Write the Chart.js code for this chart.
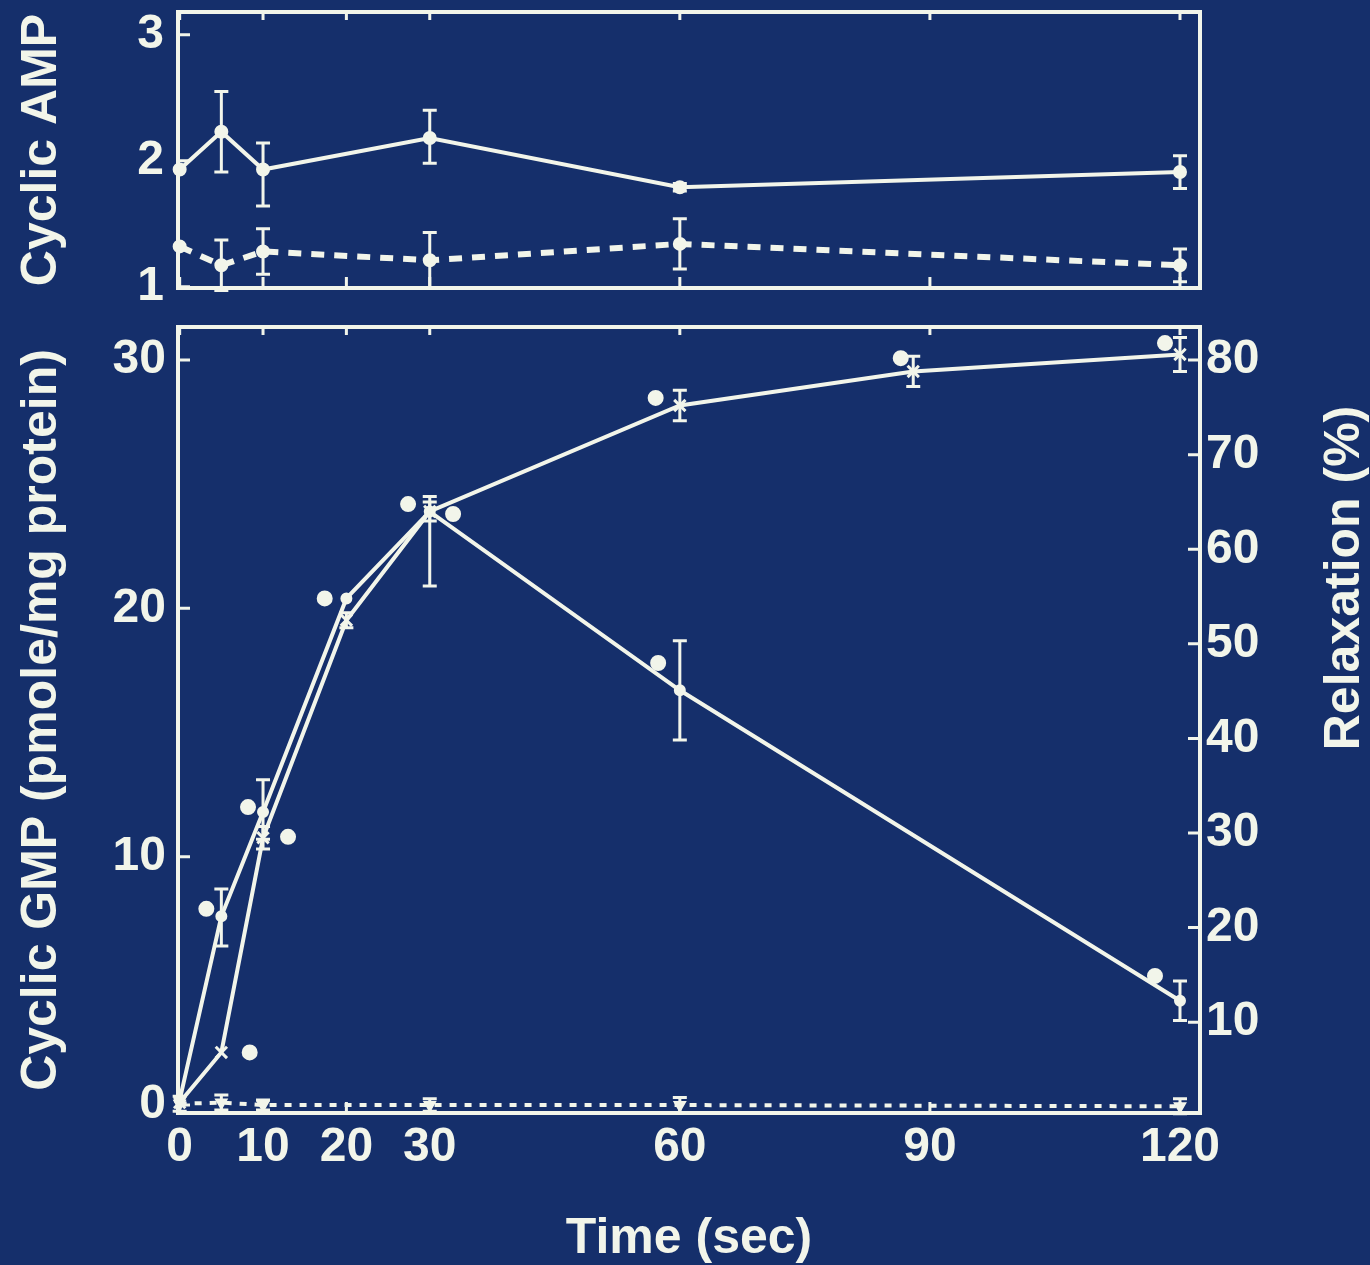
<!DOCTYPE html>
<html lang="en">
<head>
<meta charset="utf-8">
<title>Cyclic GMP, cyclic AMP and relaxation</title>
<script src="https://cdn.jsdelivr.net/npm/chart.js@4.4.1/dist/chart.umd.min.js"></script>
<style>
	html, body { margin: 0; padding: 0; background: #152f6b; }
	#wrap { position: relative; width: 1370px; height: 1265px; }
	canvas { position: absolute; left: 0; top: 0; }
</style>
</head>
<body>
<div id="wrap">
	<canvas id="gmp-chart" width="1370" height="1265"></canvas>
	<canvas id="amp-chart" width="1370" height="310"></canvas>
</div>
<script>
// **DATA**
// Top panel: cyclic AMP
const ampTimes = [0, 5, 10, 30, 60, 120];
const ampSolid = [1.93, 2.23, 1.93, 2.18, 1.79, 1.91];
const ampSolidUp = [0, 0.32, 0.21, 0.22, 0.03, 0.13];
const ampSolidDown = [0, 0.32, 0.29, 0.20, 0.03, 0.13];
const ampDashed = [1.32, 1.17, 1.28, 1.21, 1.34, 1.17];
const ampDashedErr = [0, 0.20, 0.18, 0.22, 0.20, 0.13];
const ampTicks = [1, 2, 3];

// Bottom panel: cyclic GMP (left axis)
const gmpTimes = [0, 5, 10, 20, 30, 60, 120];
const gmpValues = [0.2, 7.6, 11.8, 20.4, 23.9, 16.7, 4.2];
const gmpErrUp = [0, 1.1, 1.3, 0, 0.6, 2.0, 0.8];
const gmpErrDown = [0, 1.2, 1.1, 0, 3.0, 2.0, 0.8];

// Bottom panel: relaxation (right axis)
const relaxTimes = [0, 5, 10, 20, 30, 60, 88, 120];
const relaxValues = [1.5, 6.8, 29.5, 52.5, 64, 75.2, 78.8, 80.6];
const relaxErr = [0, 0, 1.2, 0.8, 1.0, 1.6, 1.6, 1.8];

// Bottom panel: control cyclic GMP (dotted line)
const controlTimes = [0, 5, 10, 30, 60, 120];
const controlValues = [0.05, 0.1, 0.0, 0.0, 0.0, -0.05];
const controlErr = [0.3, 0.3, 0.2, 0.25, 0.3, 0.3];

// Filled circles beside the points
const dotTimesGmp = [3.2, 8.2, 13.0, 17.4, 27.4, 32.8, 57.4, 117];
const dotValuesGmp = [7.9, 12.0, 10.8, 20.4, 24.2, 23.8, 17.8, 5.2];
const dotTimesRelax = [8.4, 57.1, 86.5, 118.2];
const dotValuesRelax = [6.8, 76.0, 80.2, 81.8];

// Axes
const timeTicks = [0, 10, 20, 30, 60, 90, 120];
const gmpTicks = [0, 10, 20, 30];
const relaxTicks = [10, 20, 30, 40, 50, 60, 70, 80];

// **STYLE**
const INK = '#f2f5ea';
const FONT = '"Liberation Sans", Arial, sans-serif';
const tickFont = { family: FONT, size: 48, weight: 'bold' };
const titleFont = { family: FONT, size: 50, weight: 'bold' };

/**
 * Builds {x, y} points from two arrays.
 */
function toPoints(xs, ys) {
	return xs.map((x, i) => ({ x, y: ys[i] }));
}

/**
 * Replaces the generated ticks with a fixed list.
 */
function fixedTicks(values) {
	return scale => { scale.ticks = values.map(v => ({ value: v })); };
}

/**
 * Fixes the width of a vertical axis and drops the label overflow padding.
 */
function fixedWidth(width) {
	return scale => {
		scale.width = width;
		scale.paddingTop = 0;
		scale.paddingBottom = 0;
	};
}

// **PLUGINS**
/**
 * Draws the box around the plot area and inward tick marks.
 */
const framePlugin = {
	id: 'frame',
	afterDatasetsDraw(chart) {
		const { ctx, chartArea: a, scales } = chart;
		ctx.save();
		ctx.strokeStyle = INK;
		ctx.lineWidth = 4;
		ctx.strokeRect(a.left, a.top, a.right - a.left, a.bottom - a.top);
		ctx.lineWidth = 3;
		ctx.beginPath();
		timeTicks.forEach(v => {
			const px = scales.x.getPixelForValue(v);
			ctx.moveTo(px, a.bottom); ctx.lineTo(px, a.bottom - 11);
			ctx.moveTo(px, a.top); ctx.lineTo(px, a.top + 8);
		});
		Object.values(scales).forEach(s => {
			if (s.axis !== 'y') return;
			s.ticks.forEach(t => {
				const py = s.getPixelForValue(t.value);
				if (s.position === 'left') { ctx.moveTo(a.left, py); ctx.lineTo(a.left + 12, py); }
				else { ctx.moveTo(a.right, py); ctx.lineTo(a.right - 12, py); }
			});
		});
		ctx.stroke();
		ctx.restore();
	}
};

/**
 * Draws vertical error bars from dataset.errUp / dataset.errDown.
 */
const errorBarPlugin = {
	id: 'errorBars',
	afterDatasetsDraw(chart) {
		const ctx = chart.ctx;
		chart.data.datasets.forEach((ds, i) => {
			if (!ds.errUp) return;
			const meta = chart.getDatasetMeta(i);
			const yScale = chart.scales[meta.yAxisID];
			ctx.save();
			ctx.strokeStyle = INK;
			ctx.lineWidth = 3;
			ctx.beginPath();
			meta.data.forEach((pt, j) => {
				const up = ds.errUp[j];
				const down = ds.errDown[j];
				if (!up && !down) return;
				const v = ds.data[j].y;
				const yTop = yScale.getPixelForValue(v + up);
				const yBot = yScale.getPixelForValue(v - down);
				const c = 7;
				ctx.moveTo(pt.x, yTop); ctx.lineTo(pt.x, yBot);
				ctx.moveTo(pt.x - c, yTop); ctx.lineTo(pt.x + c, yTop);
				ctx.moveTo(pt.x - c, yBot); ctx.lineTo(pt.x + c, yBot);
			});
			ctx.stroke();
			ctx.restore();
		});
	}
};

/**
 * Draws an axis title rotated to read bottom-to-top (used on the right axis).
 */
const sideTitlePlugin = {
	id: 'sideTitle',
	afterDraw(chart, args, opts) {
		if (!opts.text) return;
		const ctx = chart.ctx;
		ctx.save();
		ctx.translate(opts.x, opts.y);
		ctx.rotate(-Math.PI / 2);
		ctx.font = `bold ${titleFont.size}px ${FONT}`;
		ctx.fillStyle = INK;
		ctx.textAlign = 'center';
		ctx.textBaseline = 'middle';
		ctx.fillText(opts.text, 0, 0);
		ctx.restore();
	}
};

// **SHARED OPTIONS**
function timeScale(show) {
	const scale = {
		type: 'linear',
		display: show,
		min: -0.2,
		max: 122.4,
		afterBuildTicks: fixedTicks(timeTicks),
		grid: { display: false, drawTicks: false },
		border: { display: false },
		ticks: { color: INK, font: tickFont, padding: 6, maxRotation: 0, autoSkip: false },
		title: { display: show, text: 'Time (sec)', color: INK, font: titleFont, padding: { top: 0, bottom: -4 } },
	};
	if (show) scale.afterFit = s => { s.height = 152; };
	return scale;
}

function lineSet(label, xs, ys, extra) {
	return Object.assign({
		label,
		data: toPoints(xs, ys),
		borderColor: INK,
		backgroundColor: INK,
		borderWidth: 4,
		tension: 0,
		clip: 12,
		pointRadius: 6,
		pointBorderWidth: 2,
		pointBorderColor: INK,
		pointBackgroundColor: INK,
	}, extra);
}

// **CHARTS**
function createAmpChart() {
	new Chart(document.getElementById('amp-chart'), {
		type: 'line',
		data: {
			datasets: [
				lineSet('Cyclic AMP', ampTimes, ampSolid, { errUp: ampSolidUp, errDown: ampSolidDown }),
				lineSet('Cyclic AMP (control)', ampTimes, ampDashed, {
					borderDash: [13, 10], borderWidth: 6, errUp: ampDashedErr, errDown: ampDashedErr,
				}),
			],
		},
		options: {
			responsive: false,
			animation: false,
			layout: { padding: { top: 12, right: 170, bottom: 22, left: 0 } },
			plugins: { legend: { display: false }, tooltip: { enabled: false } },
			scales: {
				x: timeScale(false),
				y: {
					position: 'left',
					min: 0.99,
					max: 3.18,
					afterBuildTicks: fixedTicks(ampTicks),
					afterFit: fixedWidth(178),
					grid: { display: false, drawTicks: false },
					border: { display: false },
					ticks: { color: INK, font: tickFont, padding: 14 },
					title: { display: true, text: 'Cyclic AMP', color: INK, font: titleFont, padding: { top: 12 } },
				},
			},
		},
		plugins: [framePlugin, errorBarPlugin],
	});
}

function createGmpChart() {
	new Chart(document.getElementById('gmp-chart'), {
		type: 'line',
		data: {
			datasets: [
				lineSet('Cyclic GMP', gmpTimes, gmpValues, {
					yAxisID: 'y', pointRadius: 5, errUp: gmpErrUp, errDown: gmpErrDown,
				}),
				lineSet('Relaxation', relaxTimes, relaxValues, {
					yAxisID: 'y1', pointStyle: 'crossRot', pointRadius: 8, pointBorderWidth: 3,
					errUp: relaxErr, errDown: relaxErr,
				}),
				lineSet('Cyclic GMP (control)', controlTimes, controlValues, {
					yAxisID: 'y', borderDash: [7, 8], pointStyle: 'triangle', pointRotation: 180,
					pointRadius: 6, errUp: controlErr, errDown: controlErr,
				}),
				lineSet('GMP points', dotTimesGmp, dotValuesGmp, {
					yAxisID: 'y', showLine: false, pointRadius: 7,
				}),
				lineSet('Relaxation points', dotTimesRelax, dotValuesRelax, {
					yAxisID: 'y1', showLine: false, pointRadius: 7,
				}),
			],
		},
		options: {
			responsive: false,
			animation: false,
			layout: { padding: { top: 327, right: 0, bottom: 0, left: 0 } },
			plugins: {
				legend: { display: false },
				tooltip: { enabled: false },
				sideTitle: { text: 'Relaxation (%)', x: 1345, y: 578 },
			},
			scales: {
				x: timeScale(true),
				y: {
					position: 'left',
					min: -0.32,
					max: 31.33,
					afterBuildTicks: fixedTicks(gmpTicks),
					afterFit: fixedWidth(178),
					grid: { display: false, drawTicks: false },
					border: { display: false },
					ticks: { color: INK, font: tickFont, padding: 12 },
					title: { display: true, text: 'Cyclic GMP (pmole/mg protein)', color: INK, font: titleFont, padding: { top: 12 } },
				},
				y1: {
					position: 'right',
					min: 0.4,
					max: 83.5,
					afterBuildTicks: fixedTicks(relaxTicks),
					afterFit: fixedWidth(170),
					grid: { display: false, drawTicks: false },
					border: { display: false },
					ticks: { color: INK, font: tickFont, padding: 6 },
				},
			},
		},
		plugins: [framePlugin, errorBarPlugin, sideTitlePlugin],
	});
}

// **INIT**
function init() {
	createGmpChart();
	createAmpChart();
}

document.addEventListener('DOMContentLoaded', init);
</script>
</body>
</html>
